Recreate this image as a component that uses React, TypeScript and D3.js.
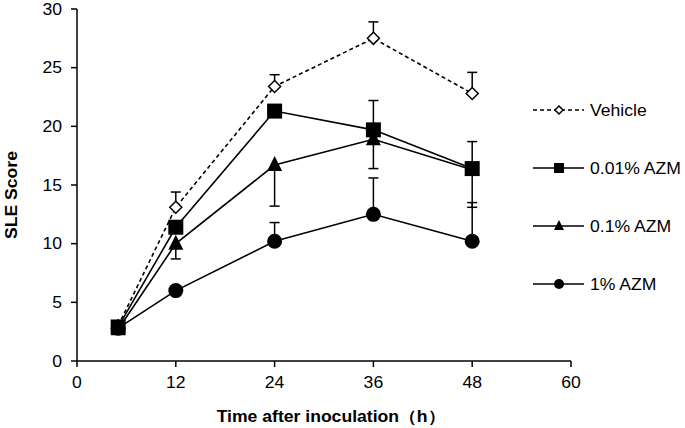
import React from "react";
import * as d3 from "d3";

const times = [5, 12, 24, 36, 48];
const seriesNames = ["Vehicle", "0.01% AZM", "0.1% AZM", "1% AZM"];
const vehicle = [3.0, 13.1, 23.4, 27.5, 22.8];
const vehicleErrUp = [0, 1.3, 1.0, 1.4, 1.8];
const azm001 = [2.9, 11.4, 21.3, 19.7, 16.4];
const azm001ErrUp = [0, 0, 0, 2.5, 2.3];
const azm01 = [2.7, 10.0, 16.7, 18.9, 16.3];
const azm01ErrDown = [0, 1.3, 3.5, 2.5, 3.2];
const azm1 = [2.8, 6.0, 10.2, 12.5, 10.2];
const azm1ErrUp = [0, 0, 1.6, 3.1, 3.3];
const xTicks = [0, 12, 24, 36, 48, 60];
const yTicks = [0, 5, 10, 15, 20, 25, 30];

const W = 685, H = 428;
const font = "'Liberation Sans', Arial, sans-serif";
const SX = 1.1;

type Marker = "diamond" | "square" | "triangle" | "circle";

function MarkerShape({ kind, x, y, s }: { kind: Marker; x: number; y: number; s: number }) {
  if (kind === "diamond") {
    const r = s / 2;
    return <path d={`M${x},${y - r}L${x + r},${y}L${x},${y + r}L${x - r},${y}Z`} fill="#fff" stroke="#000" strokeWidth={1.5} />;
  }
  if (kind === "square") return <rect x={x - s / 2} y={y - s / 2} width={s} height={s} fill="#000" />;
  if (kind === "triangle") {
    const h = s;
    return <path d={`M${x},${y - h * 0.6}L${x + s / 2},${y + h * 0.4}L${x - s / 2},${y + h * 0.4}Z`} fill="#000" />;
  }
  return <circle cx={x} cy={y} r={s / 2} fill="#000" />;
}

function T({ x, y, anchor, size, bold, rotate, dy, children }: any) {
  return (
    <text
      transform={`translate(${x},${y})${rotate ? ` rotate(${rotate})` : ""} scale(${SX},1)`}
      textAnchor={anchor || "start"}
      dy={dy}
      fontFamily={font}
      fontSize={size}
      fontWeight={bold ? "bold" : "normal"}
      fill="#000"
    >
      {children}
    </text>
  );
}

export default function App() {
  const x = d3.scaleLinear().domain([0, 60]).range([77, 571]);
  const y = d3.scaleLinear().domain([0, 30]).range([361, 9]);
  const line = d3.line<number>().x((_, i) => x(times[i])).y((d) => y(d));

  const series = [
    { vals: vehicle, up: vehicleErrUp, down: null as number[] | null, marker: "diamond" as Marker, size: 12, dash: "4,3" },
    { vals: azm001, up: azm001ErrUp, down: null, marker: "square" as Marker, size: 15, dash: undefined },
    { vals: azm01, up: null, down: azm01ErrDown, marker: "triangle" as Marker, size: 15, dash: undefined },
    { vals: azm1, up: azm1ErrUp, down: null, marker: "circle" as Marker, size: 15, dash: undefined },
  ];

  const legendY = [110, 168, 226, 284];

  return (
    <div style={{ position: "absolute", left: 0, top: 0 }}>
      <svg width={W} height={H} style={{ display: "block", background: "#fff" }}>
        {series.map((s, si) =>
          s.vals.map((v, i) => {
            const bars: any[] = [];
            const cx = x(times[i]);
            if (s.up && s.up[i] > 0) {
              const yy = y(v + s.up[i]);
              bars.push(
                <g key={`u${si}-${i}`} stroke="#000" strokeWidth={1.5}>
                  <line x1={cx} x2={cx} y1={y(v)} y2={yy} />
                  <line x1={cx - 5} x2={cx + 5} y1={yy} y2={yy} />
                </g>
              );
            }
            if (s.down && s.down[i] > 0) {
              const yy = y(v - s.down[i]);
              bars.push(
                <g key={`d${si}-${i}`} stroke="#000" strokeWidth={1.5}>
                  <line x1={cx} x2={cx} y1={y(v)} y2={yy} />
                  <line x1={cx - 5} x2={cx + 5} y1={yy} y2={yy} />
                </g>
              );
            }
            return bars;
          })
        )}
        {series.map((s, si) => (
          <path key={`l${si}`} d={line(s.vals) || ""} fill="none" stroke="#000" strokeWidth={1.6} strokeDasharray={s.dash} />
        ))}
        {series.map((s, si) =>
          s.vals.map((v, i) => <MarkerShape key={`m${si}-${i}`} kind={s.marker} x={x(times[i])} y={y(v)} s={s.size} />)
        )}
        <line x1={77} x2={77} y1={y(30)} y2={y(0)} stroke="#000" strokeWidth={1.5} />
        <line x1={77} x2={571} y1={y(0)} y2={y(0)} stroke="#000" strokeWidth={1.5} />
        {yTicks.map((t) => (
          <g key={`yt${t}`}>
            <line x1={71} x2={77} y1={y(t)} y2={y(t)} stroke="#000" strokeWidth={1.5} />
            <T x={62} y={y(t)} dy="0.35em" anchor="end" size={16}>
              {t}
            </T>
          </g>
        ))}
        {xTicks.map((t) => (
          <g key={`xt${t}`}>
            <line x1={x(t)} x2={x(t)} y1={y(0)} y2={y(0) + 6} stroke="#000" strokeWidth={1.5} />
            <T x={x(t)} y={388} anchor="middle" size={16}>
              {t}
            </T>
          </g>
        ))}
        <T x={331} y={422} anchor="middle" size={16} bold>
          Time after inoculation（h）
        </T>
        <T x={17} y={195} anchor="middle" size={16} bold rotate={-90}>
          SLE Score
        </T>
        {series.map((s, si) => (
          <g key={`lg${si}`}>
            <line x1={533} x2={584} y1={legendY[si]} y2={legendY[si]} stroke="#000" strokeWidth={1.6} strokeDasharray={s.dash} />
            <MarkerShape kind={s.marker} x={559} y={legendY[si]} s={s.marker === "diamond" ? 8 : 10} />
            <T x={590} y={legendY[si]} dy="0.35em" size={16}>
              {seriesNames[si]}
            </T>
          </g>
        ))}
      </svg>
    </div>
  );
}
